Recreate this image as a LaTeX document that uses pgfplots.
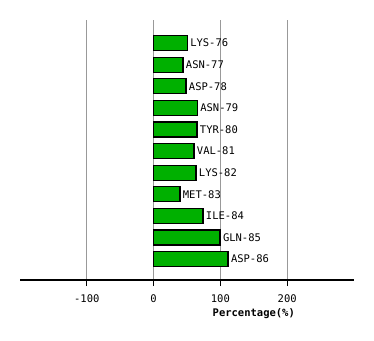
\documentclass[border=0pt]{standalone}
\usepackage{fontspec}
\setmainfont{DejaVu Sans Mono}
\usepackage{pgfplots}
\usepackage{pgfplotstable}
\pgfplotsset{compat=1.18}
\definecolor{bargreen}{HTML}{00B000}
\definecolor{gridgray}{HTML}{999999}
\pgfplotstableread[col sep=comma]{
y,val,lab
0,50.5,LYS-76
1,44,ASN-77
2,48.5,ASP-78
3,65.5,ASN-79
4,65,TYR-80
5,60.5,VAL-81
6,63.5,LYS-82
7,39.5,MET-83
8,74,ILE-84
9,99.5,GLN-85
10,111.5,ASP-86
}\datatable
\begin{document}
\begin{tikzpicture}
\useasboundingbox (0,0) rectangle (374pt,340pt);
\begin{axis}[
  at={(20pt,60pt)}, anchor=south west,
  scale only axis, width=334pt, height=260pt,
  xmin=-200, xmax=300,
  ymin=-1.065, ymax=10.97, y dir=reverse,
  axis y line=none,
  axis x line*=bottom,
  x axis line style={black, line width=1.2pt},
  xtick={-100,0,100,200},
  xticklabels={-100,0,100,200},
  xmajorgrids,
  major grid style={gridgray, line width=1.2pt},
  tick align=outside,
  major tick length=6pt,
  xtick style={black, line width=1.2pt},
  xticklabel style={font=\fontsize{10.5}{12}\selectfont, yshift=-5.5pt},
  xlabel={\textbf{Percentage(\%)}},
  xlabel style={font=\fontsize{10.5}{12}\selectfont, at={(rel axis cs:0.70,0)}, anchor=center, yshift=-34pt},
  xbar, bar width=15pt,
  point meta=explicit symbolic,
  nodes near coords,
  nodes near coords style={anchor=west, font=\fontsize{10.5}{12}\selectfont, black, xshift=-1pt},
  clip=false,
]
\addplot[fill=bargreen, draw=black, line width=1.2pt] table[x=val, y=y, meta=lab] {\datatable};
\end{axis}
\end{tikzpicture}
\end{document}
